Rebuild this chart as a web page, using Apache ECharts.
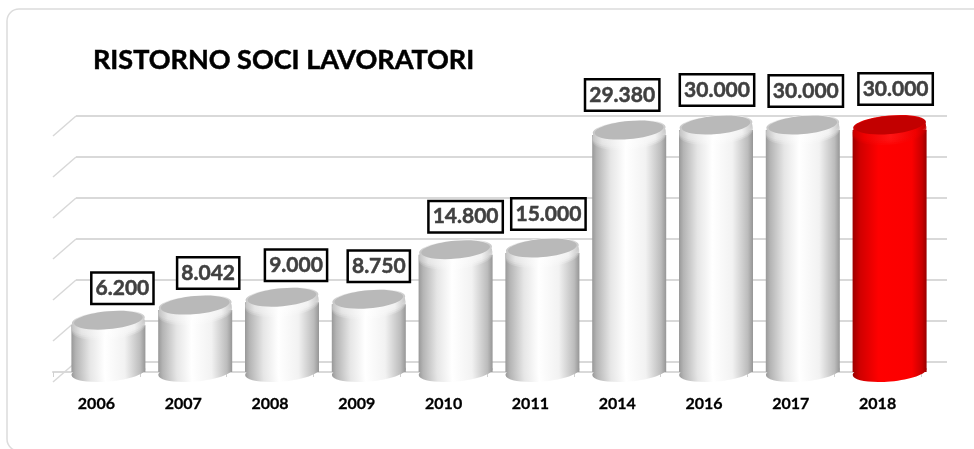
<!DOCTYPE html>
<html>
<head>
<meta charset="utf-8">
<title>Ristorno soci lavoratori</title>
<script src="https://cdn.jsdelivr.net/npm/echarts@6/dist/echarts.min.js"></script>
<style>
  html, body { margin: 0; padding: 0; background: #fff; }
  #chart { width: 974px; height: 449px; }
</style>
</head>
<body>
<div id="chart"></div>
<script>
const categories = ["2006", "2007", "2008", "2009", "2010", "2011", "2014", "2016", "2017", "2018"];
const values = [6200, 8042, 9000, 8750, 14800, 15000, 29380, 30000, 30000, 30000];
const gridTicks = [0, 5000, 10000, 15000, 20000, 25000, 30000];
const redYear = "2018";

// the value boxes were placed by hand in the original, so each has its own nudge
const boxNudge = [
  [14, -33], [13, -33], [14, -33], [10, -34], [10, -34],
  [6, -35], [-7, -36], [1, -36], [3, -35], [6, -37],
];

const fmtValue = (v) => String(v).replace(/\B(?=(\d{3})+$)/, ".");

const hGrad = (stops) => ({
  type: "linear", x: 0, y: 0, x2: 1, y2: 0,
  colorStops: stops.map((s) => ({ offset: s[0], color: s[1] })),
});

const greyBody = hGrad([[0, "#989898"], [0.06, "#b4b4b4"], [0.25, "#e6e6e6"], [0.45, "#ffffff"], [0.72, "#f2f2f2"], [0.93, "#bcbcbc"], [1, "#969696"]]);
const redBody = hGrad([[0, "#9c0000"], [0.1, "#d00000"], [0.35, "#ff0000"], [0.8, "#fb0000"], [0.94, "#c80000"], [1, "#980000"]]);
const greyRim = hGrad([[0, "#c4c4c4"], [0.12, "#e6e6e6"], [0.45, "#ffffff"], [0.85, "#f2f2f2"], [1, "#c8c8c8"]]);
const redRim = hGrad([[0, "#c80000"], [0.15, "#f00000"], [0.5, "#ff1414"], [0.85, "#f00000"], [1, "#c00000"]]);

function renderWall(params, api) {
  const cs = params.coordSys;
  const y = api.coord([0, api.value(1)])[1];
  return {
    type: "group",
    children: [
      {
        type: "line",
        shape: { x1: cs.x + 23, y1: y - 10, x2: cs.x + cs.width + 26, y2: y - 10 },
        style: { stroke: "#cccccc", lineWidth: 1.5 },
      },
      {
        type: "line",
        shape: { x1: cs.x, y1: y + 10, x2: cs.x + 23, y2: y - 10 },
        style: { stroke: "#d8d8d8", lineWidth: 1.5 },
      },
    ],
  };
}

function renderCylinder(params, api) {
  const i = api.value(0);
  const top = api.coord([i, api.value(1)]);
  const bottomY = api.coord([i, 0])[1];
  const cx = top[0] + 12;
  const red = categories[i] === redYear;
  const tilt = 0.09;
  const rim = red ? redRim : greyRim;
  const ellipse = (y, rx, ry, fill, opacity) => ({
    type: "ellipse",
    originX: cx, originY: y, rotation: tilt,
    shape: { cx: cx, cy: y, rx: rx, ry: ry },
    style: { fill: fill, opacity: opacity === undefined ? 1 : opacity },
  });
  return {
    type: "group",
    children: [
      ellipse(bottomY, 37, 9.5, red ? redBody : greyBody),
      {
        type: "rect",
        shape: { x: cx - 37, y: top[1] + 4, width: 74, height: bottomY - top[1] - 4 },
        style: { fill: red ? redBody : greyBody },
      },
      // stacked see-through ellipses so the bevel fades into the body
      ellipse(top[1] + 7, 37, 11.5, rim, 0.35),
      ellipse(top[1] + 5.5, 37, 11, rim, 0.5),
      ellipse(top[1] + 4, 37, 10.5, rim, 0.7),
      ellipse(top[1] + 2, 36.5, 10.5, rim),
      ellipse(top[1] - 1, 36.5, 9.5, rim),
      ellipse(top[1] - 1, 34.5, 9, red ? "#c20000" : "#b9b9b9"),
    ],
  };
}

function renderBox(params, api) {
  const i = api.value(0);
  const p = api.coord([i, api.value(1)]);
  return {
    type: "text",
    x: p[0] + 12 + boxNudge[i][0],
    y: p[1] + boxNudge[i][1],
    style: {
      text: fmtValue(api.value(1)),
      fill: "#404040",
      font: "bold 21px Lato",
      stroke: "#404040",
      lineWidth: 0.5,
      align: "center",
      verticalAlign: "middle",
      backgroundColor: "#fff",
      borderColor: "#000",
      borderWidth: 2.5,
      padding: [5, 3, 3, 3],
    },
  };
}

const chart = echarts.init(document.getElementById("chart"));
chart.setOption({
  animation: false,
  backgroundColor: "#fff",
  title: {
    text: "RISTORNO SOCI LAVORATORI",
    left: 88,
    top: 42,
    textStyle: {
      fontFamily: "Lato", fontWeight: "bold", fontSize: 27, color: "#000",
      textBorderColor: "#000", textBorderWidth: 0.5,
    },
  },
  graphic: [
    {
      type: "rect",
      silent: true,
      z: -10,
      shape: { x: 7, y: 9, width: 1000, height: 442, r: 12 },
      style: { fill: "#fff", stroke: "#dcdcdc", lineWidth: 1.5 },
    },
  ],
  grid: { left: 53, right: 53, top: 126, height: 246 },
  xAxis: {
    type: "category",
    data: categories,
    offset: 10,
    axisLine: { lineStyle: { color: "#d9d9d9", width: 2 } },
    axisTick: { show: true, length: 5, lineStyle: { color: "#d0d0d0" } },
    axisLabel: {
      color: "#000", fontFamily: "Lato", fontWeight: "bold", fontSize: 16, margin: 14,
      textBorderColor: "#000", textBorderWidth: 0.3,
    },
  },
  yAxis: {
    type: "value",
    min: 0,
    max: 30000,
    interval: 5000,
    show: false,
    splitLine: { show: false },
  },
  series: [
    {
      type: "custom",
      name: "griglia",
      z: 1,
      silent: true,
      renderItem: renderWall,
      data: gridTicks.map((t) => [0, t]),
    },
    {
      type: "custom",
      name: "Ristorno",
      z: 2,
      renderItem: renderCylinder,
      data: values.map((v, i) => [i, v]),
    },
    {
      type: "custom",
      name: "etichette",
      z: 3,
      silent: true,
      renderItem: renderBox,
      data: values.map((v, i) => [i, v]),
    },
  ],
});
</script>
</body>
</html>
